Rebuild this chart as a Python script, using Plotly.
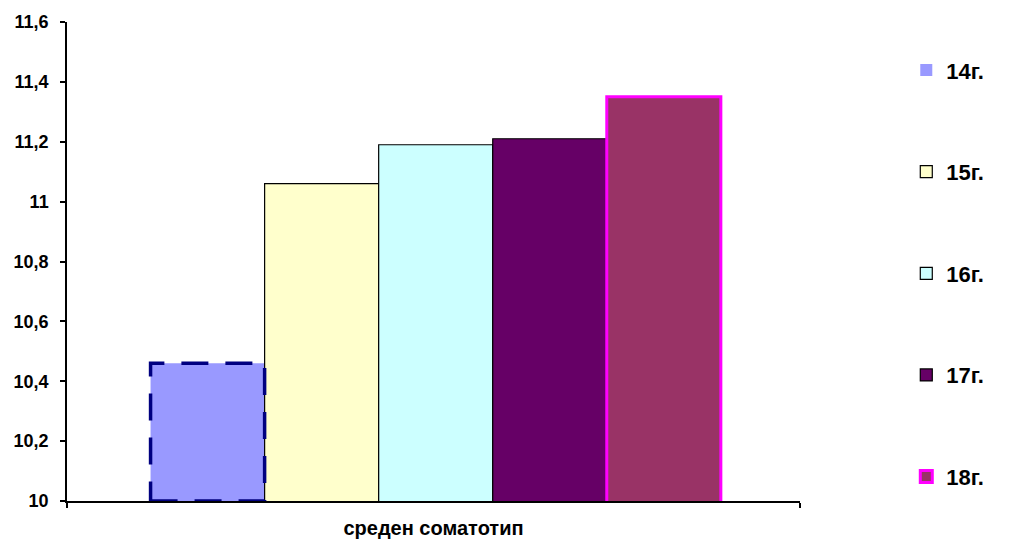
import plotly.graph_objects as go

# Data
category = "среден соматотип"
ages = ["14г.", "15г.", "16г.", "17г.", "18г."]
values = [10.46, 11.06, 11.19, 11.21, 11.35]

fills = ["#9999FF", "#FFFFCC", "#CCFFFF", "#660066", "#993366"]
edge_colors = ["#000080", "#000000", "#000000", "#000000", "#FF00FF"]
edge_widths = [0, 1.2, 1.2, 1.2, 3]

Y_MIN, Y_MAX, Y_STEP = 10, 11.6, 0.2
BAR_GAP = 0.222

FONT = "Liberation Sans, Arial, sans-serif"

fig = go.Figure()
for i, (name, val) in enumerate(zip(ages, values)):
    fig.add_trace(go.Bar(
        x=[0],
        y=[val],
        name=name,
        legendgroup=name,
        marker=dict(color=fills[i],
                    line=dict(color=edge_colors[i], width=edge_widths[i])),
        hoverinfo="name+y",
    ))

# Dashed outline for the first bar (bar outlines cannot be dashed directly)
group_w = 1 - BAR_GAP
bar_w = group_w / len(values)
x0 = -group_w / 2
fig.add_shape(type="rect", xref="x", yref="y",
              x0=x0, x1=x0 + bar_w, y0=Y_MIN, y1=values[0],
              line=dict(color=edge_colors[0], width=3.5, dash="27px,17px"),
              fillcolor="rgba(0,0,0,0)", layer="above")

fig.update_layout(
    width=1010, height=540, autosize=False,
    margin=dict(l=67, r=210, t=22, b=39),
    paper_bgcolor="white", plot_bgcolor="white",
    barmode="group", bargap=BAR_GAP, bargroupgap=0,
    separators=", ",
    font=dict(family=FONT, color="black"),
    showlegend=True,
    legend=dict(x=1.145, xanchor="left", y=0.943, yanchor="top",
                font=dict(family=FONT, size=22, weight="bold", color="black"),
                tracegroupgap=70, itemwidth=30,
                bgcolor="rgba(0,0,0,0)"),
    xaxis=dict(range=[-0.503, 0.497], tickvals=[-0.503, 0.497], showticklabels=False,
               ticks="outside", ticklen=5, tickcolor="black", tickwidth=1.5,
               showline=True, linecolor="black", linewidth=1.5,
               showgrid=False, zeroline=False, fixedrange=True, automargin=False,
               title=dict(text=category, standoff=14,
                          font=dict(family=FONT, size=20, weight="bold"))),
    yaxis=dict(range=[Y_MIN, Y_MAX], tick0=Y_MIN, dtick=Y_STEP,
               ticks="outside", ticklen=5, tickcolor="black", tickwidth=1.5,
               showline=True, linecolor="black", linewidth=1.5,
               showgrid=False, zeroline=False, ticklabelstandoff=8, automargin=False,
               tickfont=dict(family=FONT, size=18, weight="bold")),
)

fig.write_html("out.html")
